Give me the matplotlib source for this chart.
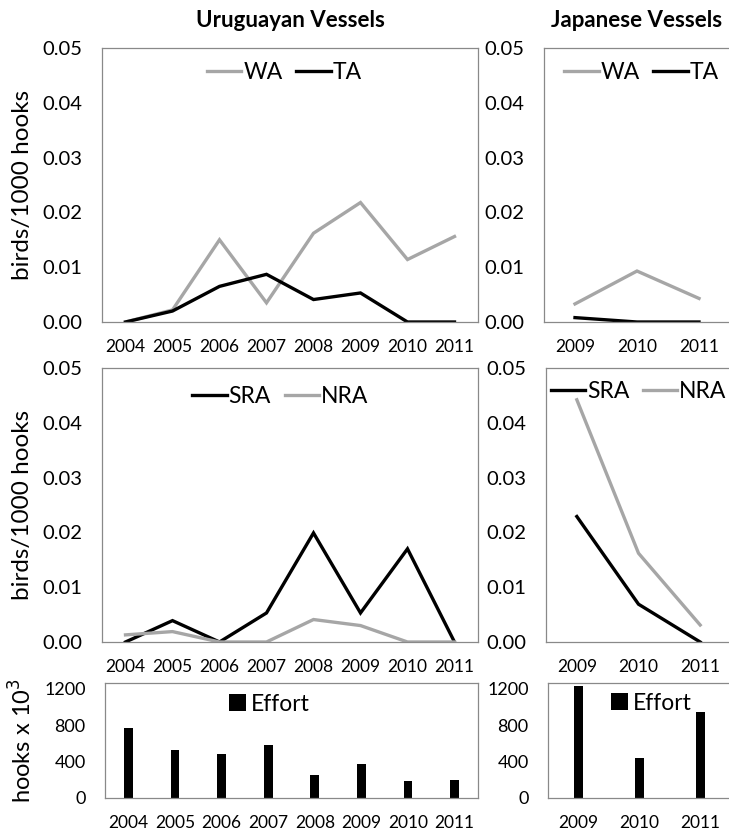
import matplotlib
matplotlib.use("Agg")
import matplotlib.pyplot as plt
from matplotlib.ticker import FixedLocator

plt.rcParams['font.family'] = ['Lato', 'DejaVu Sans']

# data
uy_years = ["2004", "2005", "2006", "2007", "2008", "2009", "2010", "2011"]
jp_years = ["2009", "2010", "2011"]

uy_wa = [0.0, 0.0022, 0.0150, 0.0035, 0.0162, 0.0218, 0.0114, 0.0156]
uy_ta = [0.0, 0.0020, 0.0065, 0.0087, 0.0041, 0.0053, 0.0, 0.0]
jp_wa = [0.0033, 0.0093, 0.0043]
jp_ta = [0.0008, 0.0, 0.0]

uy_sra = [0.0, 0.0039, 0.0, 0.0053, 0.0199, 0.0053, 0.0170, 0.0]
uy_nra = [0.0013, 0.0019, 0.0, 0.0, 0.0041, 0.0030, 0.0, 0.0]
jp_sra = [0.0229, 0.0069, 0.0]
jp_nra = [0.0442, 0.0162, 0.0031]

uy_effort = [769, 523, 483, 582, 256, 373, 183, 198]
jp_effort = [1237, 439, 948]

GRAY = "#a6a6a6"
FRAME = "#898989"
W, H = 729, 834

fig = plt.figure(figsize=(W / 100, H / 100), dpi=100)


def ax_px(l, t, r, b):
    return fig.add_axes([l / W, 1 - b / H, (r - l) / W, (b - t) / H])


def style(ax, n, ysize):
    ax.set_xlim(-0.5, n - 0.5)
    for s in ax.spines.values():
        s.set_color(FRAME)
        s.set_linewidth(0.9)
    ax.tick_params(axis='y', length=0, pad=14, labelsize=ysize)
    ax.tick_params(axis='x', length=0, pad=12, labelsize=12.5)


def line_panel(ax, years, s1, s2, lab1, lab2, c1, c2, leg_xy):
    x = range(len(years))
    ax.plot(x, s1, color=c1, lw=2.4, label=lab1, solid_joinstyle='miter')
    ax.plot(x, s2, color=c2, lw=2.4, label=lab2, solid_joinstyle='miter')
    style(ax, len(years), 14.5)
    ax.set_ylim(0, 0.05)
    ax.yaxis.set_major_locator(FixedLocator([0, 0.01, 0.02, 0.03, 0.04, 0.05]))
    ax.set_yticklabels(["0.00", "0.01", "0.02", "0.03", "0.04", "0.05"])
    ax.set_xticks(list(x))
    ax.set_xticklabels(years)
    ax.legend(loc='center', bbox_to_anchor=leg_xy, ncol=2, frameon=False,
              fontsize=16.5, handlelength=1.5, handletextpad=0.08, columnspacing=0.6,
              borderpad=0.2)


def bar_panel(ax, years, vals, width, leg_xy):
    x = range(len(years))
    ax.bar(x, vals, width=width, color="black", label="Effort")
    style(ax, len(years), 13)
    ax.set_ylim(0, 1265)
    ax.set_yticks([0, 400, 800, 1200])
    ax.set_yticklabels(["0", "400", "800", "1200"])
    ax.set_xticks(list(x))
    ax.set_xticklabels(years)
    ax.legend(loc='center', bbox_to_anchor=leg_xy, frameon=False,
              fontsize=16.5, handlelength=0.75, handleheight=0.75, handletextpad=0.2,
              borderpad=0.2)


ax1 = ax_px(102, 48, 478, 322)
line_panel(ax1, uy_years, uy_wa, uy_ta, "WA", "TA", GRAY, "black", (0.485, 0.909))
ax1.set_ylabel("birds/1000 hooks", fontsize=17.5, labelpad=7)
ax1.set_title("Uruguayan Vessels", fontweight='bold', fontsize=16, pad=15)

ax2 = ax_px(544, 48, 730, 322)
line_panel(ax2, jp_years, jp_wa, jp_ta, "WA", "TA", GRAY, "black", (0.524, 0.909))
ax2.set_title("Japanese Vessels", fontweight='bold', fontsize=16, pad=15)

ax3 = ax_px(102, 368, 478, 642)
line_panel(ax3, uy_years, uy_sra, uy_nra, "SRA", "NRA", "black", GRAY, (0.474, 0.897))
ax3.set_ylabel("birds/1000 hooks", fontsize=17.5, labelpad=7)

ax4 = ax_px(546, 368, 731, 642)
line_panel(ax4, jp_years, jp_sra, jp_nra, "SRA", "NRA", "black", GRAY, (0.5, 0.913))

ax5 = ax_px(105, 683, 478, 798)
bar_panel(ax5, uy_years, uy_effort, 0.19, (0.44, 0.817))
ax5.set_ylabel("hooks x 10$^3$", fontsize=17, labelpad=6)

ax6 = ax_px(548, 683, 731, 798)
bar_panel(ax6, jp_years, jp_effort, 0.16, (0.563, 0.826))

fig.savefig("out.png", dpi=100)
